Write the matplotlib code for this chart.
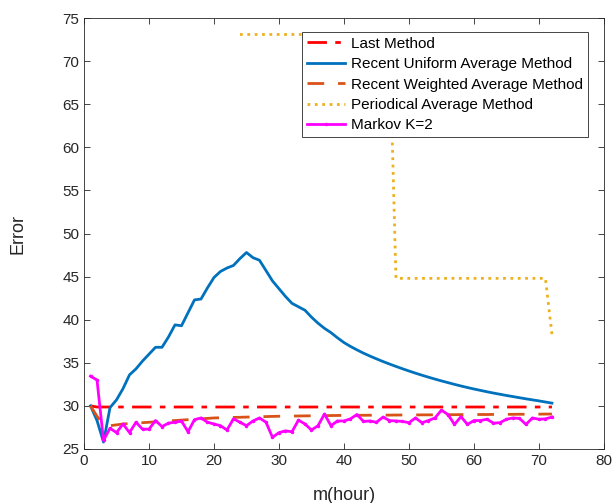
import numpy as np
import matplotlib
matplotlib.use("Agg")
import matplotlib.pyplot as plt

plt.rcParams["font.family"] = ["Liberation Sans", "DejaVu Sans"]

# hours 1..72
hours = np.arange(1, 73)

last_method = [30.0] + [29.87] * 71

uniform_avg = [30.0, 28.3, 25.8, 29.8, 30.7, 32.0, 33.6, 34.3, 35.2, 36.0,
               36.8, 36.8, 38.0, 39.4, 39.3, 40.8, 42.3, 42.4, 43.7, 44.9,
               45.6, 46.0, 46.3, 47.1, 47.8, 47.2, 46.9, 45.7, 44.5, 43.6,
               42.7, 41.9, 41.5, 41.1, 40.3, 39.6, 39.0, 38.5, 37.9, 37.35,
               36.9, 36.5, 36.12, 35.78, 35.46, 35.15, 34.86, 34.58, 34.31, 34.05,
               33.8, 33.56, 33.33, 33.11, 32.9, 32.7, 32.5, 32.31, 32.13, 31.96,
               31.8, 31.64, 31.49, 31.35, 31.21, 31.08, 30.95, 30.82, 30.7, 30.58,
               30.45, 30.32]

weighted_avg = [30.0, 28.8, 27.8, 27.7, 27.8, 27.9, 27.95, 28.0, 28.05, 28.1,
                28.15, 28.2, 28.25, 28.3, 28.35, 28.4, 28.45, 28.5, 28.55, 28.6,
                28.62, 28.64, 28.66, 28.68, 28.7, 28.72, 28.74, 28.76, 28.78, 28.8,
                28.81, 28.82, 28.83, 28.84, 28.85, 28.86, 28.87, 28.88, 28.89, 28.9,
                28.9, 28.91, 28.91, 28.92, 28.92, 28.93, 28.93, 28.94, 28.94, 28.95,
                28.95, 28.96, 28.96, 28.97, 28.97, 28.98, 28.98, 28.99, 28.99, 29.0,
                29.0, 29.0, 29.01, 29.01, 29.02, 29.02, 29.03, 29.03, 29.04, 29.04,
                29.05, 29.05]

# periodical average is only defined from hour 24 on
periodic_hours = np.arange(24, 73)
periodic_avg = [73.1] * 24 + [44.8] * 24 + [38.3]

markov_k2 = [33.45, 33.0, 26.0, 27.4, 26.9, 27.9, 26.9, 28.1, 27.3, 27.3,
             28.3, 27.6, 28.0, 28.1, 28.25, 27.0, 28.4, 28.6, 28.1, 27.9,
             27.7, 27.2, 28.5, 28.1, 27.7, 28.25, 28.6, 28.1, 26.35, 26.9,
             27.1, 27.0, 28.35, 27.9, 27.2, 27.7, 29.05, 27.7, 28.25, 28.25,
             28.5, 29.0, 28.2, 28.25, 28.1, 28.7, 28.3, 28.25, 28.2, 28.05,
             28.6, 28.05, 28.3, 28.6, 29.5, 29.0, 27.85, 28.75, 27.85, 28.3,
             28.3, 28.45, 28.0, 28.05, 28.45, 28.6, 28.55, 27.85, 28.6, 28.45,
             28.5, 28.7]

fig = plt.figure(figsize=(6.15, 5.03), dpi=100)
ax = fig.add_axes([0.1366, 0.1074, 0.8454, 0.8566])

ax.plot(hours, last_method, color="#FF0000", linestyle=(0, (7, 3, 2, 3)),
        linewidth=2, label="Last Method")
ax.plot(hours, uniform_avg, color="#0072BD", linestyle="-", linewidth=2,
        label="Recent Uniform Average Method")
ax.plot(hours, weighted_avg, color="#D95319", linestyle=(0, (6, 5)), linewidth=2,
        label="Recent Weighted Average Method")
ax.plot(periodic_hours, periodic_avg, color="#EDB120", linestyle=":", linewidth=2,
        label="Periodical Average Method")
ax.plot(hours, markov_k2, color="#FF00FF", linestyle="-", linewidth=2,
        marker=".", markersize=3, label="Markov K=2")

ax.set_xlim(0, 80)
ax.set_ylim(25, 75)
ax.set_xticks(np.arange(0, 81, 10))
ax.set_yticks(np.arange(25, 76, 5))
ax.tick_params(direction="in", top=True, right=True, length=4, width=0.6,
               labelsize=11, colors="#262626")
for sp in ax.spines.values():
    sp.set_linewidth(0.6)
    sp.set_color("#262626")

ax.set_xlabel("m(hour)", fontsize=13, color="#262626", labelpad=14)
ax.set_ylabel("Error", fontsize=13, color="#262626", labelpad=26)

leg = ax.legend(loc="upper right", bbox_to_anchor=(0.969, 0.9675),
                borderaxespad=0, fancybox=False, framealpha=1,
                edgecolor="#262626", fontsize=11, handlelength=2.5,
                handletextpad=0.4, labelspacing=0.42, borderpad=0.3)
leg.get_frame().set_linewidth(0.6)

fig.savefig("out.png", dpi=100)
